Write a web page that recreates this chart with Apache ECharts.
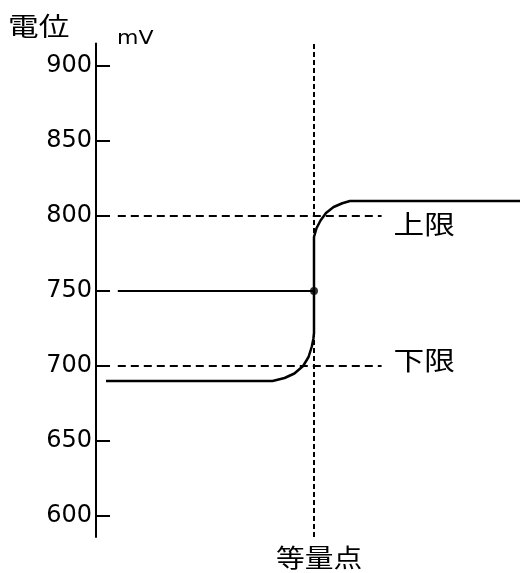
<!DOCTYPE html>
<html><head><meta charset="utf-8">
<script src="https://cdn.jsdelivr.net/npm/echarts@6/dist/echarts.min.js"></script>
<style>html,body{margin:0;padding:0;background:#fff}#c{width:520px;height:573px}</style>
</head><body><div id="c"></div>
<script>
// Data
const yTicks = [600, 650, 700, 750, 800, 850, 900];
const titrationCurve = [[0.46,690],[8.1,690],[8.65,692],[9.1,695],[9.5,700],[9.75,706],[9.9,713],[9.97,718],[10,722],[10,786],[10.12,792],[10.3,797],[10.55,802],[10.9,806],[11.3,808.5],[11.65,810],[19.45,810]];
const midLine = [[1.0,750],[10,750]];
const midPoint = [[10,750]];
const upperLimit = [[1.0,800],[13.1,800]];
const lowerLimit = [[1.0,700],[13.1,700]];
const equivLine = [[10,586],[10,915]];
const limitLabels = ['上限','下限'];

const chart = echarts.init(document.getElementById('c'));
const cjk = '"Noto Sans CJK JP","Noto Sans CJK SC",sans-serif';
chart.setOption({
  animation:false,
  grid:{left:96,right:0,top:43.5,bottom:36},
  xAxis:{type:'value',min:0,max:19.45,show:false},
  yAxis:{type:'value',min:586,max:915,
    axisLine:{show:true,lineStyle:{color:'#000',width:2}},
    axisTick:{show:true,inside:true,length:14,customValues:yTicks,lineStyle:{color:'#000',width:2}},
    axisLabel:{customValues:yTicks,margin:4,color:'#000',fontFamily:'DejaVu Sans',fontSize:24},
    splitLine:{show:false}},
  series:[
    {type:'line',data:equivLine,symbol:'none',lineStyle:{color:'#000',width:2,type:[5,3]},z:1},
    {type:'line',data:upperLimit,symbol:'none',lineStyle:{color:'#000',width:2,type:[8,5]},z:1},
    {type:'line',data:lowerLimit,symbol:'none',lineStyle:{color:'#000',width:2,type:[8,5]},z:1},
    {type:'line',data:midLine,symbol:'none',lineStyle:{color:'#000',width:2},z:2},
    {type:'line',data:titrationCurve,symbol:'none',lineStyle:{color:'#000',width:2.5},z:3},
    {type:'scatter',data:midPoint,symbol:'circle',symbolSize:8,itemStyle:{color:'#000'},z:4}
  ]
});
const pU = chart.convertToPixel({gridIndex:0},[upperLimit[1][0],upperLimit[1][1]]);
const pL = chart.convertToPixel({gridIndex:0},[lowerLimit[1][0],lowerLimit[1][1]]);
const txt = (x,y,t,fs,sx,fam)=>({type:'text',x:x,y:y,scaleX:sx,
  style:{text:t,fill:'#000',font:fs+'px '+fam,textAlign:'left',textVerticalAlign:'middle'}});
chart.setOption({graphic:[
  txt(8,26,'電位',26,1.18,cjk),
  txt(117,39,'mV',20,1.1,'"DejaVu Sans"'),
  txt(276,557,'等量点',25,1.15,cjk),
  txt(pU[0]+12,pU[1]+8,limitLabels[0],26,1.18,cjk),
  txt(pL[0]+12,pL[1]-6,limitLabels[1],26,1.18,cjk)
]});
</script></body></html>
